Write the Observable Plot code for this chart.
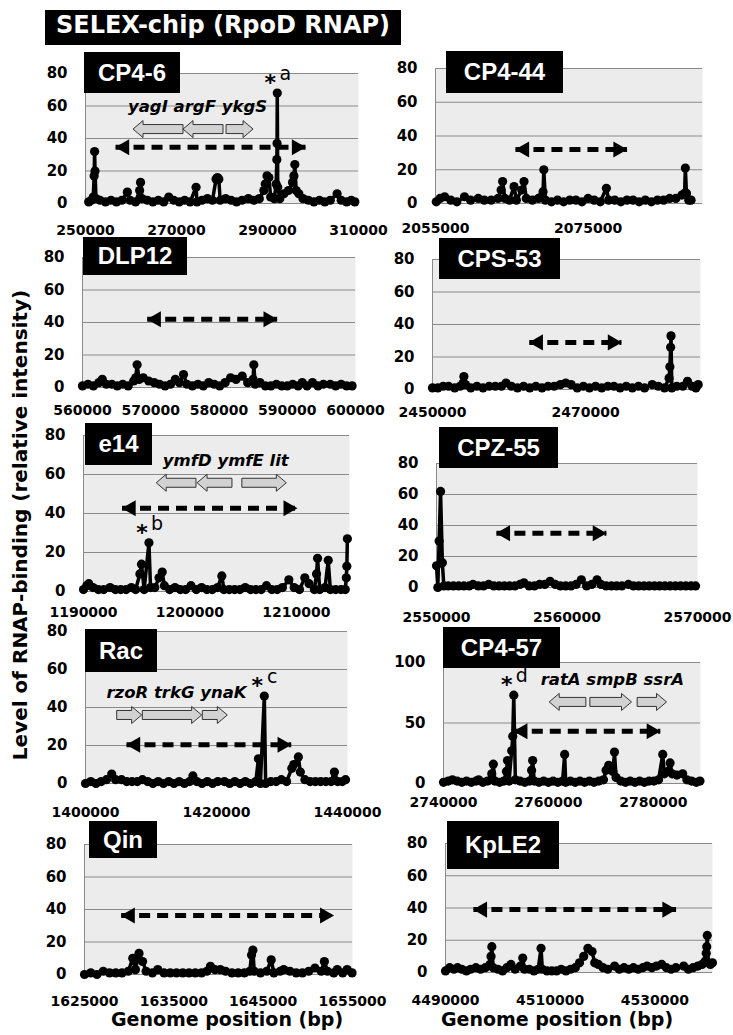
<!DOCTYPE html>
<html><head><meta charset="utf-8">
<script src="https://cdn.jsdelivr.net/npm/d3@7"></script>
<script src="https://cdn.jsdelivr.net/npm/@observablehq/plot@0.6"></script>
<style>
body{margin:0;background:#fff;}
#fig{position:relative;width:733px;height:1035px;overflow:hidden;font-family:"DejaVu Sans",sans-serif;}
#fig svg{position:absolute;}
.tag{position:absolute;background:#000;color:#fff;font:bold 24px "Liberation Sans",Arial,sans-serif;display:flex;align-items:center;justify-content:center;white-space:nowrap;}
.title{position:absolute;left:45px;top:10px;width:356px;height:35px;background:#000;color:#fff;font:bold 24px "DejaVu Sans",sans-serif;display:flex;align-items:center;justify-content:center;box-sizing:border-box;padding-bottom:6px;white-space:nowrap;}
.ylab{position:absolute;left:20px;top:525px;transform:translate(-50%,-50%) rotate(-90deg);font:bold 20px "DejaVu Sans",sans-serif;white-space:nowrap;}
.xlab{position:absolute;top:1019px;transform:translate(-50%,-50%);font:bold 19px "DejaVu Sans",sans-serif;white-space:nowrap;}
</style></head><body><div id="fig"></div><script>
// ---------- DATA ----------
const panelNames = ["CP4-6","CP4-44","DLP12","CPS-53","e14","CPZ-55","Rac","CP4-57","Qin","KpLE2"];

const cp4_6 = [[250700,1],[251300,2],[251700,4],[251900,17],[252000,32],[252100,20],[252300,3],[253200,2],[254400,1],[255600,2],[256800,1],[258000,2],[259200,7],[259800,2],[261000,1],[261900,8],[262100,13],[262400,3],[263600,2],[264800,1],[266000,2],[267200,1],[268300,4],[269400,2],[270600,1],[271800,2],[273000,1],[274300,10],[274500,1],[275600,2],[276800,3],[277900,2],[278700,15],[279000,16],[279300,15],[279600,2],[280800,3],[282000,2],[283200,1],[284400,2],[285800,3],[287000,2],[288200,3],[289200,8],[289500,12],[289900,17],[290300,16],[290700,4],[291500,3],[291900,12],[292050,27],[292100,37],[292150,68],[292250,10],[292700,3],[293600,6],[294600,8],[295500,13],[295800,17],[296000,24],[296300,8],[296900,6],[297800,3],[299000,2],[300200,1],[301400,2],[302600,1],[303800,2],[305300,6],[306200,2],[307400,1],[308400,2],[309200,1]];

const cp4_44 = [[2055100,1],[2055600,3],[2056200,4],[2057000,2],[2057800,1],[2058800,4],[2059600,2],[2060600,3],[2061400,2],[2062300,2],[2063200,3],[2063600,8],[2063800,13],[2064100,3],[2064700,2],[2065300,10],[2065600,2],[2066300,8],[2066600,13],[2066900,3],[2067700,2],[2068500,3],[2068900,4],[2069100,7],[2069200,20],[2069400,2],[2070200,1],[2071000,2],[2071800,1],[2072600,2],[2073400,2],[2074200,1],[2075000,3],[2075800,2],[2076600,1],[2077400,9],[2077700,2],[2078500,2],[2079300,1],[2080100,2],[2080900,2],[2081700,1],[2082500,2],[2083300,1],[2084100,2],[2084900,2],[2085700,3],[2086500,3],[2087300,5],[2087650,6],[2087750,21],[2087900,6],[2088200,2],[2088500,2]];

const dlp12 = [[560000,1],[560800,2],[561600,1],[562400,3],[562900,5],[563500,2],[564300,2],[565100,1],[565900,2],[566700,1],[567500,4],[567800,6],[568000,14],[568300,5],[568900,6],[569700,4],[570500,3],[571300,2],[572100,1],[572900,2],[573600,5],[574200,3],[574800,8],[575300,2],[576100,1],[576900,2],[577700,1],[578500,3],[579300,2],[580100,1],[580900,3],[581700,6],[582500,5],[583400,7],[584200,3],[585000,5],[585100,14],[585300,2],[586000,3],[586800,1],[587600,1],[588400,2],[589200,1],[590000,1],[590800,2],[591600,1],[592200,3],[592900,1],[593700,3],[594500,1],[595300,2],[596300,2],[597100,1],[597900,2],[598700,1],[599500,1]];

const cps53 = [[2450000,1],[2450700,1],[2451400,2],[2452100,2],[2452900,1],[2453600,2],[2454000,4],[2454100,8],[2454300,3],[2455000,1],[2455800,2],[2456600,1],[2457400,2],[2458200,2],[2459000,2],[2459600,4],[2460300,2],[2461100,1],[2461900,2],[2462700,1],[2463500,2],[2464300,1],[2465100,2],[2465900,2],[2466700,3],[2467400,4],[2468100,3],[2468900,1],[2469700,2],[2470500,1],[2471300,2],[2472100,1],[2472900,2],[2473700,2],[2474500,1],[2475300,2],[2476100,1],[2476900,2],[2477700,1],[2478700,3],[2479500,2],[2480300,1],[2480900,7],[2481000,14],[2481100,26],[2481150,33],[2481250,1],[2481900,2],[2482700,2],[2483300,5],[2483900,2],[2484400,1],[2484700,3]];

const e14 = [[1190000,1],[1190300,3],[1190500,4],[1190900,2],[1191400,1],[1191900,1],[1192500,2],[1193000,1],[1193500,1],[1194000,1],[1194500,2],[1194900,1],[1195300,9],[1195450,14],[1195700,1],[1196150,25],[1196300,2],[1196700,2],[1197100,7],[1197400,10],[1197600,3],[1198100,1],[1198600,2],[1199100,1],[1199600,1],[1200100,3],[1200600,1],[1201100,2],[1201600,1],[1202100,1],[1202600,2],[1203000,8],[1203200,1],[1203700,1],[1204200,1],[1204700,1],[1205200,2],[1205700,1],[1206200,1],[1206700,1],[1207200,3],[1207700,1],[1208200,1],[1208700,2],[1209300,6],[1209800,2],[1210300,1],[1210800,7],[1211200,4],[1211700,1],[1211900,9],[1212000,17],[1212200,1],[1212700,2],[1213000,16],[1213200,1],[1213700,1],[1214200,1],[1214600,1],[1214700,7],[1214750,13],[1214800,27]];

const cpz55 = [[2550000,14],[2550100,0],[2550200,30],[2550310,62],[2550450,16],[2550560,1],[2550900,1],[2551300,1],[2551700,1],[2552100,1],[2552500,1],[2552800,2],[2553200,1],[2553600,1],[2554000,2],[2554400,1],[2554800,1],[2555200,1],[2555600,1],[2556000,1],[2556400,2],[2556700,3],[2557100,1],[2557500,1],[2557900,2],[2558300,2],[2558700,4],[2559100,2],[2559500,1],[2559900,1],[2560300,1],[2560700,2],[2561100,5],[2561500,1],[2561900,2],[2562300,5],[2562600,2],[2563000,1],[2563400,1],[2563800,1],[2564200,1],[2564700,2],[2565100,1],[2565500,1],[2565900,1],[2566300,1],[2566700,1],[2567100,1],[2567500,1],[2567900,1],[2568300,1],[2568700,1],[2569100,1],[2569500,1],[2569850,1]];

const rac = [[1400000,0],[1400800,1],[1401600,0],[1402400,1],[1403200,2],[1404000,5],[1404600,2],[1405500,2],[1406300,1],[1407100,1],[1407900,1],[1408700,2],[1409500,1],[1410300,0],[1411100,1],[1411900,0],[1412700,1],[1413500,0],[1414300,1],[1415100,0],[1415900,1],[1416400,4],[1417000,1],[1417800,0],[1418600,1],[1419400,0],[1420200,1],[1421200,1],[1422000,0],[1422800,1],[1423600,0],[1424400,1],[1425200,0],[1426000,1],[1426400,13],[1426700,0],[1427300,46],[1427500,0],[1428300,1],[1429100,1],[1429900,2],[1430700,1],[1431500,8],[1431800,10],[1432500,14],[1432800,6],[1433500,2],[1434300,1],[1435100,1],[1435900,1],[1436700,1],[1437500,1],[1438000,6],[1438500,1],[1439200,1],[1439700,2]];

const cp4_57 = [[2740000,1],[2740900,2],[2741700,3],[2742600,2],[2743500,1],[2744400,2],[2745300,1],[2746200,2],[2746700,3],[2747500,1],[2748400,2],[2749200,8],[2749500,16],[2749800,2],[2750700,1],[2751500,2],[2752000,10],[2752200,19],[2752500,2],[2753000,27],[2753200,39],[2753400,73],[2753700,3],[2754600,2],[2755500,1],[2756400,2],[2756800,11],[2757000,19],[2757300,2],[2758200,1],[2759100,2],[2760000,1],[2760900,2],[2761800,1],[2762700,2],[2763100,24],[2763300,1],[2764200,2],[2765100,1],[2766000,2],[2766900,1],[2767800,2],[2768700,1],[2769600,2],[2770500,3],[2771000,11],[2771500,15],[2772300,10],[2772600,26],[2772900,5],[2773800,2],[2774700,1],[2775600,2],[2776500,1],[2777400,2],[2778300,1],[2779200,2],[2780100,2],[2781000,3],[2781800,24],[2782100,8],[2782800,10],[2783200,17],[2783600,8],[2784500,7],[2785600,8],[2786400,3],[2787300,2],[2788200,1],[2788900,2]];

const qin = [[1625000,0],[1625700,1],[1626400,0],[1627100,2],[1627800,1],[1628500,1],[1629200,1],[1629900,2],[1630400,10],[1630700,3],[1631100,13],[1631500,8],[1631900,2],[1632600,1],[1633200,3],[1633900,1],[1634600,1],[1635300,1],[1636000,1],[1636700,1],[1637400,1],[1638100,1],[1638700,2],[1639100,5],[1639600,3],[1640200,3],[1640800,2],[1641500,1],[1642200,1],[1642900,1],[1643500,2],[1643700,12],[1643850,15],[1644000,2],[1644700,1],[1645400,2],[1645900,9],[1646200,1],[1646900,2],[1647300,3],[1648000,2],[1648700,1],[1649400,1],[1650100,2],[1650800,4],[1651500,2],[1651850,8],[1652200,2],[1652900,1],[1653300,3],[1653900,1],[1654400,3],[1654950,1]];

const kple2 = [[4490000,1],[4490800,3],[4491600,2],[4492300,3],[4493100,2],[4494000,1],[4494800,2],[4495800,3],[4496700,2],[4497600,3],[4498500,5],[4498700,10],[4498850,16],[4499100,3],[4500000,2],[4500900,1],[4501700,3],[4502500,5],[4503300,2],[4504300,4],[4504750,9],[4505100,2],[4506000,2],[4506900,1],[4507700,2],[4508250,15],[4508500,2],[4509400,1],[4510300,1],[4511200,1],[4512100,2],[4513000,1],[4513900,2],[4514800,3],[4515600,6],[4516400,10],[4517200,15],[4518000,13],[4518500,6],[4519200,5],[4520100,3],[4521000,2],[4522300,4],[4523200,2],[4524100,3],[4525000,2],[4525900,3],[4526800,2],[4527700,3],[4528500,4],[4529400,3],[4530300,4],[4531300,5],[4532200,3],[4533100,2],[4534000,3],[4535500,4],[4536400,2],[4537300,3],[4538200,4],[4539000,5],[4539600,7],[4539800,12],[4539900,16],[4540000,23],[4540200,6],[4540600,5],[4541000,6]];

const series = [cp4_6, cp4_44, dlp12, cps53, e14, cpz55, rac, cp4_57, qin, kple2];

const xDomains = [[250000,310000],[2055000,2090000],[560000,600000],[2450000,2485000],[1190000,1215000],[2550000,2570000],[1400000,1440000],[2740000,2789000],[1625000,1655000],[4490000,4541000]];
const xTicks = [[250000,270000,290000,310000],[2055000,2075000],[560000,570000,580000,590000,600000],[2450000,2470000],[1190000,1200000,1210000],[2550000,2560000,2570000],[1400000,1420000,1440000],[2740000,2760000,2780000],[1625000,1635000,1645000,1655000],[4490000,4510000,4530000]];
const yTicks80 = [0,20,40,60,80];
const yTicks100 = [0,50,100];
const yTicks = [yTicks80,yTicks80,yTicks80,yTicks80,yTicks80,yTicks80,yTicks80,yTicks100,yTicks80,yTicks80];

// prophage extent (dashed double arrow): [start, end, drawn level]
const spans = [[256600,298360,34.6],[2065480,2080110,32],[569480,588520,42],[2462640,2474680,29],[1193620,1210080,42.7],[2554590,2563020,35],[1406260,1431410,20.4],[2753400,2781340,43.2],[1629100,1652900,36.3],[4495330,4534040,39]];

// genes: [start, end, direction]
const genesCP46 = [[260550,271540,"L"],[271540,280330,"L"],[281000,286930,"R"]];
const genesE14  = [[1196880,1200620,"L"],[1200720,1204000,"L"],[1204930,1209110,"R"]];
const genesRac  = [[1404840,1408650,"R"],[1408750,1417810,"R"],[1417910,1421730,"R"]];
const genesCP457 = [[2760250,2767240,"L"],[2768000,2775940,"R"],[2777020,2782620,"R"]];
const geneSets = {0: genesCP46, 4: genesE14, 6: genesRac, 7: genesCP457};
const geneLevels = {0: 45.5, 4: 55.5, 6: 35.8, 7: 67};
const geneLabels = {0: "yagI argF ykgS", 4: "ymfD ymfE lit", 6: "rzoR trkG ynaK", 7: "ratA smpB ssrA"};

// marked peaks: [position, value, letter]
const peaks = {0: [292150,68,"a"], 4: [1196150,25,"b"], 6: [1427300,46,"c"], 7: [2753400,73,"d"]};

// ---------- LAYOUT ----------
const frames = [
 {l:85,t:73,r:358,b:203,pad:22},
 {l:435,t:68,r:702,b:203,pad:20},
 {l:82,t:257,r:355,b:387,pad:18},
 {l:432,t:259,r:700,b:389,pad:18},
 {l:83,t:435,r:349,b:591,pad:16},
 {l:436,t:463,r:697,b:587,pad:25},
 {l:85,t:631,r:347,b:783,pad:24},
 {l:443,t:662,r:700,b:783,pad:14},
 {l:84,t:844,r:352,b:974,pad:22},
 {l:445,t:843,r:712,b:972,pad:23}
];
const tags = [
 {l:84,t:52,w:96,h:41},{l:446,t:51,w:117,h:42},{l:83,t:237,w:104,h:38},{l:439,t:238,w:121,h:41},
 {l:85,t:423,w:67,h:42},{l:439,t:427,w:119,h:41},{l:85,t:629,w:72,h:43},{l:443,t:627,w:117,h:41},
 {l:89,t:821,w:68,h:37},{l:447,t:821,w:112,h:48}
];

const fig = document.getElementById("fig");
const mL = 60, mR = 45, mT = 10, mB = 40;

function geneMark(genes, level) {
  return (index, scales) => {
    const g = d3.create("svg:g");
    const bh = 4.5, hh = 8.5, hl = 10;
    for (const [a, b, dir] of genes) {
      const x0 = scales.x(a), x1 = scales.x(b), y = scales.y(level);
      let p;
      if (dir === "R") p = [[x0,y-bh],[x1-hl,y-bh],[x1-hl,y-hh],[x1,y],[x1-hl,y+hh],[x1-hl,y+bh],[x0,y+bh]];
      else p = [[x1,y-bh],[x0+hl,y-bh],[x0+hl,y-hh],[x0,y],[x0+hl,y+hh],[x0+hl,y+bh],[x1,y+bh]];
      g.append("path").attr("d", "M" + p.map(q => q.join(",")).join("L") + "Z")
        .attr("fill", "#d2d2d2").attr("stroke", "#333").attr("stroke-width", 1);
    }
    return g.node();
  };
}

series.forEach((s, i) => {
  const f = frames[i];
  const pts = s.map(([x, y]) => ({x, y}));
  const yt = yTicks[i];
  const span = [spans[i]];
  const marks = [
    Plot.frame({fill: "#ececec", stroke: "none"}),
    Plot.ruleY(yt, {stroke: "#8a8a8a", strokeWidth: 1}),
    Plot.ruleX([xDomains[i][0]], {stroke: "#8a8a8a", strokeWidth: 1}),
    Plot.link(span, {x1: d => d[0], x2: d => d[1], y1: d => d[2], y2: d => d[2], stroke: "#000", strokeWidth: 5, strokeDasharray: "11,7"}),
    Plot.dot(span, {x: d => d[0], y: d => d[2], symbol: "triangle", rotate: -90, r: 6, fill: "#000", stroke: "none", dx: 9}),
    Plot.dot(span, {x: d => d[1], y: d => d[2], symbol: "triangle", rotate: 90, r: 6, fill: "#000", stroke: "none", dx: -9})
  ];
  if (geneSets[i]) {
    const gs = geneSets[i];
    marks.push(geneMark(gs, geneLevels[i]));
    const cx = (d3.min(gs, d => d[0]) + d3.max(gs, d => d[1])) / 2;
    marks.push(Plot.text([geneLabels[i]], {x: () => cx, y: () => geneLevels[i], text: d => d, dx: 4, dy: -23, fontSize: 16.5, fontWeight: "bold", fontStyle: "italic", fontFamily: "DejaVu Sans", fill: "#000"}));
  }
  marks.push(Plot.line(pts, {x: "x", y: "y", stroke: "#000", strokeWidth: 3.5}));
  marks.push(Plot.dot(pts, {x: "x", y: "y", r: 4.6, fill: "#000", stroke: "none"}));
  if (peaks[i]) {
    const pk = [peaks[i]];
    marks.push(Plot.text(pk, {x: d => d[0], y: d => d[1], text: () => "*", dx: -7, dy: -10, fontSize: 22, fontWeight: "bold", fontFamily: "DejaVu Sans"}));
    marks.push(Plot.text(pk, {x: d => d[0], y: d => d[1], text: d => d[2], dx: 8, dy: -19, fontSize: 19, fontWeight: "normal", fontFamily: "DejaVu Sans"}));
  }
  const svg = Plot.plot({
    width: f.r - f.l + mL + mR,
    height: f.b - f.t + mT + mB,
    marginLeft: mL, marginRight: mR, marginTop: mT, marginBottom: mB,
    style: {background: "transparent", overflow: "visible", fontFamily: "DejaVu Sans", fontSize: "14px", fontWeight: "bold", color: "#000"},
    x: {domain: xDomains[i], ticks: xTicks[i], tickFormat: d3.format("d"), tickSize: 0, tickPadding: f.pad, label: null},
    y: {domain: [0, yt[yt.length - 1]], ticks: yt, tickSize: 0, tickPadding: 18, label: null},
    marks
  });
  svg.querySelectorAll('g[aria-label^="y-axis"]').forEach(g => { g.style.fontSize = "15px"; g.setAttribute("font-size", "15"); });
  svg.style.left = (f.l - mL) + "px";
  svg.style.top = (f.t - mT) + "px";
  svg.style.maxWidth = "none";
  fig.appendChild(svg);
});

tags.forEach((t, i) => {
  const d = document.createElement("div");
  d.className = "tag";
  d.style.left = t.l + "px"; d.style.top = t.t + "px";
  d.style.width = t.w + "px"; d.style.height = t.h + "px";
  d.textContent = panelNames[i];
  fig.appendChild(d);
});

const title = document.createElement("div");
title.className = "title"; title.textContent = "SELEX-chip (RpoD RNAP)";
fig.appendChild(title);

const yl = document.createElement("div");
yl.className = "ylab"; yl.textContent = "Level of RNAP-binding (relative intensity)";
fig.appendChild(yl);

[227, 557].forEach(x => {
  const d = document.createElement("div");
  d.className = "xlab"; d.style.left = x + "px"; d.textContent = "Genome position (bp)";
  fig.appendChild(d);
});
</script></body></html>
